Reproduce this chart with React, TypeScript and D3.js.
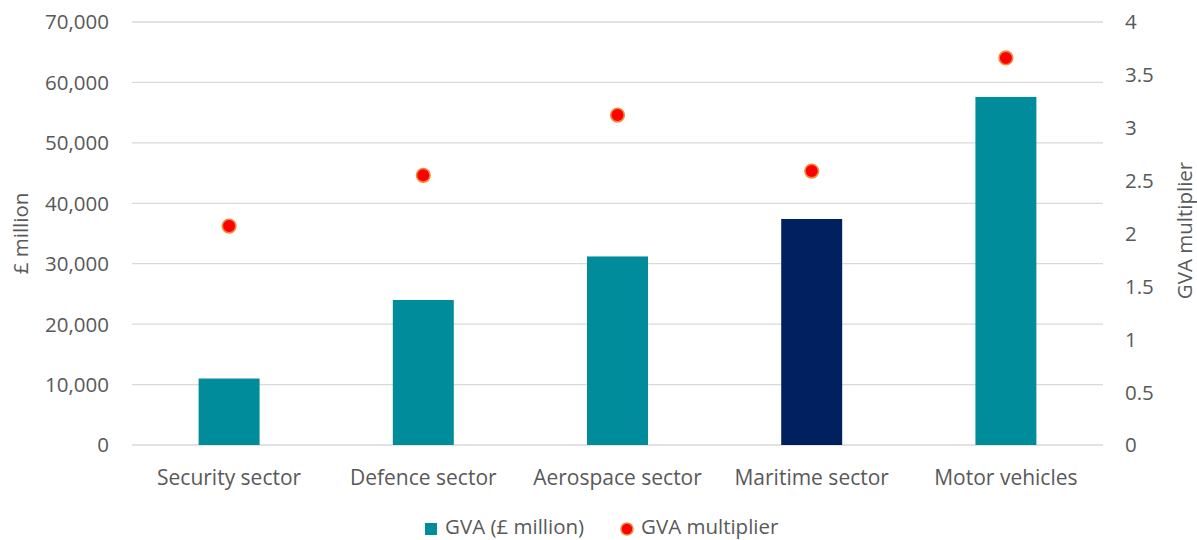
import * as d3 from 'd3'

const categories = ['Security sector', 'Defence sector', 'Aerospace sector', 'Maritime sector', 'Motor vehicles']
const gvaMillion = [11000, 24000, 31200, 37400, 57600]
const gvaMultiplier = [2.07, 2.55, 3.12, 2.59, 3.66]
const leftTicks = [0, 10000, 20000, 30000, 40000, 50000, 60000, 70000]
const rightTicks = [0, 0.5, 1, 1.5, 2, 2.5, 3, 3.5, 4]
const highlighted = 'Maritime sector'

const W = 1197
const H = 540
const plot = { left: 132, right: 1103, top: 22, bottom: 445 }

const TEAL = '#008C9A'
const NAVY = '#002060'
const TEXT = '#595959'
const GRID = '#D9D9D9'
const FONT = '"Open Sans", sans-serif'
const FS = 20.5

export default function App() {
  const x = d3.scaleBand<string>()
    .domain(categories)
    .range([plot.left, plot.right])
    .paddingInner(0.686)
    .paddingOuter(0.343)
  const yL = d3.scaleLinear().domain([0, 70000]).range([plot.bottom, plot.top])
  const yR = d3.scaleLinear().domain([0, 4]).range([plot.bottom, plot.top])
  const fmt = d3.format(',')
  const midY = (plot.top + plot.bottom) / 2
  const cx = (c: string) => (x(c) ?? 0) + x.bandwidth() / 2

  return (
    <div style={{ position: 'fixed', left: 0, top: 0 }}>
      <svg width={W} height={H} style={{ display: 'block', fontFamily: FONT }}>
        <rect width={W} height={H} fill="#fff" />

        {/* gridlines */}
        {leftTicks.map(t => (
          <line key={t} x1={plot.left} x2={plot.right} y1={yL(t)} y2={yL(t)}
            stroke={GRID} strokeWidth={1.3} />
        ))}

        {/* left axis labels */}
        {leftTicks.map(t => (
          <text key={t} x={109} y={yL(t)} dy="0.36em" textAnchor="end"
            fill={TEXT} fontSize={FS}>{fmt(t)}</text>
        ))}

        {/* right axis labels */}
        {rightTicks.map(t => (
          <text key={t} x={1125} y={yR(t)} dy="0.36em" textAnchor="start"
            fill={TEXT} fontSize={FS}>{String(t)}</text>
        ))}

        {/* axis titles */}
        <text transform={`translate(28,${midY}) rotate(-90)`} textAnchor="middle"
          fill={TEXT} fontSize={FS}>£ million</text>
        <text transform={`translate(1192,${midY - 3}) rotate(-90)`} textAnchor="middle"
          fill={TEXT} fontSize={FS}>GVA multiplier</text>

        {/* bars */}
        {categories.map((c, i) => (
          <rect key={c} x={x(c)} y={yL(gvaMillion[i])} width={x.bandwidth()}
            height={yL(0) - yL(gvaMillion[i])}
            fill={c === highlighted ? NAVY : TEAL} />
        ))}

        {/* multiplier dots */}
        {categories.map((c, i) => (
          <circle key={c} cx={cx(c)} cy={yR(gvaMultiplier[i])} r={6.8}
            fill="#FF0000" stroke="#F08A3A" strokeWidth={1.6} />
        ))}

        {/* category labels */}
        {categories.map(c => (
          <text key={c} x={cx(c)} y={477} dy="0.36em" textAnchor="middle"
            fill={TEXT} fontSize={21}>{c}</text>
        ))}

        {/* legend */}
        <rect x={425} y={523} width={12} height={12} fill={TEAL} />
        <text x={445} y={534} fill={TEXT} fontSize={FS}>GVA (£ million)</text>
        <circle cx={627} cy={529} r={6} fill="#FF0000" stroke="#F08A3A" strokeWidth={1.6} />
        <text x={641} y={534} fill={TEXT} fontSize={FS}>GVA multiplier</text>
      </svg>
    </div>
  )
}
